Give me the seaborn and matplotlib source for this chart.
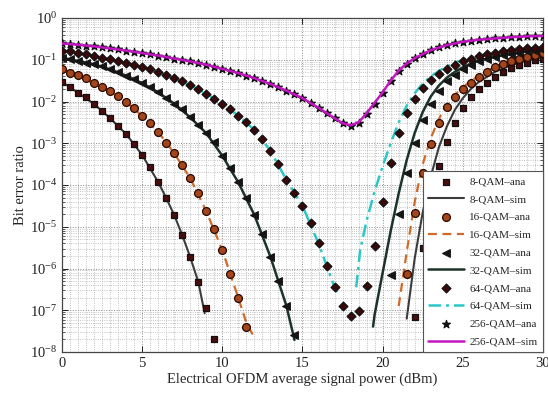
import numpy as np
import pandas as pd
import matplotlib
matplotlib.use("Agg")
import matplotlib.pyplot as plt
import seaborn as sns
from matplotlib.ticker import LogLocator, MultipleLocator, NullFormatter

# ---------------- data (BER given as log10 exponents) ----------------
qam8_ana_x = [0, 0.5, 1, 1.5, 2, 2.5, 3, 3.5, 4, 4.5, 5, 5.5, 6, 6.5, 7, 7.5, 8, 8.5, 9, 9.5,
              22, 22.5, 23, 23.5, 24, 24.5, 25, 25.5, 26, 26.5, 27, 27.5, 28, 28.5, 29, 29.5, 30]
qam8_ana_e = [-1.53, -1.66, -1.79, -1.90, -2.06, -2.23, -2.40, -2.58, -2.78, -3.02, -3.28, -3.58,
              -3.93, -4.31, -4.72, -5.20, -5.73, -6.32, -6.95, -7.70,
              -7.15, -5.50, -4.40, -3.54, -2.96, -2.51, -2.15, -1.90, -1.71, -1.56, -1.42, -1.29,
              -1.19, -1.13, -1.07, -1.00, -0.97]
qam8_sim_lx = [0, 1, 2, 3, 4, 5, 6, 6.5, 7, 7.5, 8, 8.5, 8.9]
qam8_sim_le = [-1.53, -1.79, -2.06, -2.40, -2.78, -3.28, -3.93, -4.31, -4.72, -5.20, -5.73, -6.32, -7.07]
qam8_sim_rx = [21.5, 22, 22.5, 23, 23.5, 24, 24.5, 25, 25.5, 26, 27, 28, 29, 30]
qam8_sim_re = [-7.2, -5.75, -4.65, -3.8, -3.1, -2.6, -2.2, -1.92, -1.7, -1.53, -1.29, -1.13, -1.02, -0.95]

qam16_ana_x = [0, 0.5, 1, 1.5, 2, 2.5, 3, 3.5, 4, 4.5, 5, 5.5, 6, 6.5, 7, 7.5, 8, 8.5, 9, 9.5,
               10, 10.5, 11, 11.5,
               21.5, 22, 22.5, 23, 23.5, 24, 24.5, 25, 25.5, 26, 26.5, 27, 27.5, 28, 28.5, 29, 29.5, 30]
qam16_ana_e = [-1.23, -1.31, -1.37, -1.44, -1.56, -1.66, -1.76, -1.88, -2.00, -2.16, -2.35, -2.52,
               -2.73, -2.99, -3.24, -3.53, -3.84, -4.19, -4.63, -5.06, -5.56, -6.12, -6.71, -7.39,
               -6.14, -4.68, -3.72, -3.02, -2.51, -2.14, -1.90, -1.71, -1.55, -1.42, -1.29, -1.18,
               -1.10, -1.04, -0.99, -0.94, -0.89, -0.85]
qam16_sim_lx = [0, 1, 2, 3, 4, 5, 6, 7, 8, 9, 10, 11, 11.5, 11.9]
qam16_sim_le = [-1.23, -1.37, -1.56, -1.76, -2.0, -2.35, -2.73, -3.24, -3.84, -4.63, -5.56, -6.71, -7.3, -7.59]
qam16_sim_rx = [21, 21.5, 22, 22.5, 23, 23.5, 24, 24.5, 25, 25.5, 26, 26.5, 27, 27.5, 28, 28.5, 29, 29.5, 30]
qam16_sim_re = [-6.9, -5.6, -4.4, -3.5, -2.88, -2.42, -2.08, -1.84, -1.66, -1.51, -1.38, -1.27,
                -1.17, -1.10, -1.04, -0.98, -0.93, -0.89, -0.85]

qam32_ana_x = [0, 0.5, 1, 1.5, 2, 2.5, 3, 3.5, 4, 4.5, 5, 5.5, 6, 6.5, 7, 7.5, 8, 8.5, 9, 9.5,
               10, 10.5, 11, 11.5, 12, 12.5, 13, 13.5, 14, 14.5,
               20.5, 21, 21.5, 22, 22.5, 23, 23.5, 24, 24.5, 25, 25.5, 26, 26.5, 27, 27.5, 28,
               28.5, 29, 29.5, 30]
qam32_ana_e = [-0.95, -0.99, -1.03, -1.07, -1.11, -1.16, -1.23, -1.30, -1.38, -1.46, -1.56, -1.66,
               -1.78, -1.91, -2.05, -2.19, -2.38, -2.56, -2.76, -2.98, -3.30, -3.60, -3.94, -4.32,
               -4.72, -5.18, -5.72, -6.30, -6.90, -7.60,
               -6.15, -4.70, -3.72, -3.00, -2.45, -2.05, -1.75, -1.52, -1.36, -1.22, -1.12, -1.04,
               -0.98, -0.93, -0.89, -0.86, -0.83, -0.80, -0.78, -0.76]
qam32_sim_lx = [0, 1, 2, 3, 4, 5, 6, 7, 8, 9, 10, 11, 12, 13, 14, 14.5]
qam32_sim_le = [-0.95, -1.03, -1.11, -1.23, -1.38, -1.56, -1.78, -2.05, -2.38, -2.76, -3.30, -3.94,
                -4.72, -5.72, -6.90, -7.71]
qam32_sim_rx = [19.4, 19.5, 20, 20.5, 21, 21.5, 22, 22.5, 23, 23.5, 24, 24.5, 25, 25.5, 26, 27, 28, 29, 30]
qam32_sim_re = [-7.39, -7.1, -6.1, -5.1, -4.2, -3.4, -2.75, -2.25, -1.88, -1.62, -1.43, -1.29,
                -1.18, -1.09, -1.02, -0.93, -0.86, -0.80, -0.76]

qam64_ana_x = [0, 0.5, 1, 1.5, 2, 2.5, 3, 3.5, 4, 4.5, 5, 5.5, 6, 6.5, 7, 7.5, 8, 8.5, 9, 9.5,
               10, 10.5, 11, 11.5, 12, 12.5, 13, 13.5, 14, 14.5, 15, 15.5, 16, 16.5, 17, 17.5, 18,
               18.5, 19, 19.5, 20, 20.5, 21, 21.5, 22, 22.5, 23, 23.5, 24, 24.5, 25, 25.5, 26,
               26.5, 27, 27.5, 28, 28.5, 29, 29.5, 30]
qam64_ana_e = [-0.78, -0.80, -0.83, -0.87, -0.91, -0.95, -0.99, -1.03, -1.08, -1.13, -1.18, -1.23,
               -1.29, -1.36, -1.44, -1.52, -1.61, -1.70, -1.81, -1.93, -2.06, -2.19, -2.34, -2.50,
               -2.68, -2.90, -3.18, -3.50, -3.88, -4.20, -4.50, -4.90, -5.40, -5.95, -6.45, -6.90,
               -7.14, -7.01, -6.42, -5.46, -4.40, -3.48, -2.76, -2.28, -1.95, -1.68, -1.49, -1.34,
               -1.22, -1.12, -1.04, -0.97, -0.92, -0.87, -0.83, -0.80, -0.77, -0.75, -0.73, -0.71, -0.70]
qam64_sim_lx = [0, 1, 2, 3, 4, 5, 6, 7, 8, 9, 10, 11, 12, 13, 14, 15, 16, 17, 17.2]
qam64_sim_le = [-0.78, -0.83, -0.91, -0.99, -1.08, -1.18, -1.29, -1.44, -1.61, -1.81, -2.06, -2.34,
                -2.68, -3.18, -3.88, -4.50, -5.40, -6.45, -6.6]
qam64_sim_rx = [18.35, 18.6, 19, 19.5, 20, 20.5, 21, 21.5, 22, 22.5, 23, 23.5, 24, 25, 26, 27, 28, 29, 30]
qam64_sim_re = [-6.45, -5.55, -4.85, -4.15, -3.55, -3.0, -2.5, -2.1, -1.8, -1.57, -1.4, -1.27,
                -1.16, -1.0, -0.9, -0.83, -0.77, -0.73, -0.70]

qam256_ana_x = [0, 0.5, 1, 1.5, 2, 2.5, 3, 3.5, 4, 4.5, 5, 5.5, 6, 6.5, 7, 7.5, 8, 8.5, 9, 9.5,
                10, 10.5, 11, 11.5, 12, 12.5, 13, 13.5, 14, 14.5, 15, 15.5, 16, 16.5, 17, 17.5, 18,
                18.5, 19, 19.5, 20, 20.5, 21, 21.5, 22, 22.5, 23, 23.5, 24, 24.5, 25, 25.5, 26,
                26.5, 27, 27.5, 28, 28.5, 29, 29.5, 30]
qam256_ana_e = [-0.61, -0.62, -0.64, -0.66, -0.68, -0.70, -0.73, -0.75, -0.78, -0.81, -0.84, -0.87,
                -0.90, -0.93, -0.97, -1.00, -1.04, -1.08, -1.12, -1.17, -1.22, -1.27, -1.32, -1.38,
                -1.44, -1.51, -1.58, -1.66, -1.74, -1.83, -1.92, -2.03, -2.15, -2.27, -2.40, -2.52,
                -2.58, -2.52, -2.30, -2.05, -1.80, -1.52, -1.27, -1.10, -0.96, -0.86, -0.77, -0.70,
                -0.65, -0.60, -0.57, -0.54, -0.52, -0.50, -0.49, -0.47, -0.46, -0.45, -0.44, -0.435, -0.43]
qam256_sim_x = [0, 1, 2, 3, 4, 5, 6, 7, 8, 9, 10, 11, 12, 13, 14, 15, 16, 17, 17.5, 18, 18.5,
                19, 19.5, 20, 20.5, 21, 21.5, 22, 23, 24, 25, 26, 27, 28, 29, 30]
qam256_sim_e = [-0.61, -0.64, -0.68, -0.73, -0.78, -0.84, -0.90, -0.97, -1.04, -1.12, -1.22, -1.32,
                -1.44, -1.58, -1.74, -1.92, -2.15, -2.40, -2.52, -2.57, -2.50, -2.28, -2.03, -1.78,
                -1.50, -1.26, -1.09, -0.96, -0.77, -0.65, -0.57, -0.52, -0.49, -0.46, -0.44, -0.43]

# ---------------- style ----------------
sns.set_style("ticks")
plt.rcParams['font.family'] = ['Liberation Serif', 'DejaVu Serif']
plt.rcParams['mathtext.fontset'] = 'stix'

fig = plt.figure(figsize=(5.48, 3.94), dpi=100)
ax = fig.add_axes([0.1131, 0.1066, 0.8778, 0.8477])
ax.set_yscale('log')


def ber(e):
    return np.power(10.0, np.asarray(e, dtype=float))


def ana(x, e, marker, s, face, edge, label, z=4):
    sns.scatterplot(x=np.asarray(x, float), y=ber(e), marker=marker, s=s, color=face,
                    edgecolor=edge, linewidth=0.9, ax=ax, label=label, zorder=z, legend=False)


def sim(segments, color, ls, lw, label, z=3):
    for i, (x, e) in enumerate(segments):
        df = pd.DataFrame({"x": np.asarray(x, float), "y": ber(e)})
        sns.lineplot(data=df, x="x", y="y", color=color, linestyle=ls, linewidth=lw,
                     estimator=None, sort=False, ax=ax, zorder=z,
                     label=(label if i == 0 else None), legend=False)


ana(qam8_ana_x, qam8_ana_e, 's', 22, '#4a0c0c', '#111111', '8-QAM–ana')
sim([(qam8_sim_lx, qam8_sim_le), (qam8_sim_rx, qam8_sim_re)], '#3c3c3c', '-', 1.5, '8-QAM–sim')
ana(qam16_ana_x, qam16_ana_e, 'o', 32, '#a3461c', '#2a0800', '16-QAM–ana')
sim([(qam16_sim_lx, qam16_sim_le), (qam16_sim_rx, qam16_sim_re)], '#d06a2a', (0, (4, 2.5)), 1.6, '16-QAM–sim')
ana(qam32_ana_x, qam32_ana_e, '<', 30, '#151515', '#151515', '32-QAM–ana')
sim([(qam32_sim_lx, qam32_sim_le), (qam32_sim_rx, qam32_sim_re)], '#1c3328', '-', 1.8, '32-QAM–sim')
ana(qam64_ana_x, qam64_ana_e, 'D', 20, '#3a0808', '#111111', '64-QAM–ana')
sim([(qam64_sim_lx, qam64_sim_le), (qam64_sim_rx, qam64_sim_re)], '#2cc6c6', (0, (5, 2, 1.2, 2)), 1.8, '64-QAM–sim')
ana(qam256_ana_x, qam256_ana_e, '*', 34, '#111111', '#111111', '256-QAM–ana', z=4)
sim([(qam256_sim_x, qam256_sim_e)], '#c316c3', '-', 1.8, '256-QAM–sim', z=5)

# ---------------- axes ----------------
ax.set_xlim(0, 30)
ax.set_ylim(1e-8, 1)
ax.xaxis.set_major_locator(MultipleLocator(5))
ax.xaxis.set_minor_locator(MultipleLocator(0.5))
ax.yaxis.set_major_locator(LogLocator(base=10, numticks=20))
ax.yaxis.set_minor_locator(LogLocator(base=10, subs=np.arange(2, 10), numticks=20))
ax.yaxis.set_minor_formatter(NullFormatter())
ax.tick_params(which='both', direction='in', top=True, right=True, labelsize=10.5, colors='#222222')
ax.tick_params(which='major', length=4, width=0.7)
ax.tick_params(which='minor', length=2, width=0.5)
ax.tick_params(axis='x', which='minor', length=0)
ax.grid(True, which='major', linestyle=':', color='#8c8c8c', linewidth=0.7)
ax.grid(True, which='minor', linestyle=':', color='#b0b0b0', linewidth=0.6)
ax.set_axisbelow(True)
for sp in ax.spines.values():
    sp.set_color('#444444')
    sp.set_linewidth(0.9)

ax.set_xlabel('Electrical OFDM average signal power (dBm)', fontsize=10.5, labelpad=2)
ax.set_ylabel('Bit error ratio', fontsize=10.5, labelpad=2)

handles, labels = ax.get_legend_handles_labels()
seen = {}
for h, l in zip(handles, labels):
    if l and not l.startswith('_') and l not in seen:
        seen[l] = h
order = ['8-QAM–ana', '8-QAM–sim', '16-QAM–ana', '16-QAM–sim', '32-QAM–ana', '32-QAM–sim',
         '64-QAM–ana', '64-QAM–sim', '256-QAM–ana', '256-QAM–sim']
leg = ax.legend([seen[l] for l in order], order, loc='lower right', bbox_to_anchor=(1, 0),
                borderaxespad=0, fontsize=8, frameon=True, fancybox=False, framealpha=1,
                edgecolor='#555555', handlelength=3.2, labelspacing=0.72, borderpad=0.5,
                handletextpad=0.5)
leg.get_frame().set_linewidth(0.8)
leg.set_zorder(10)

fig.savefig('out.png', dpi=100)
